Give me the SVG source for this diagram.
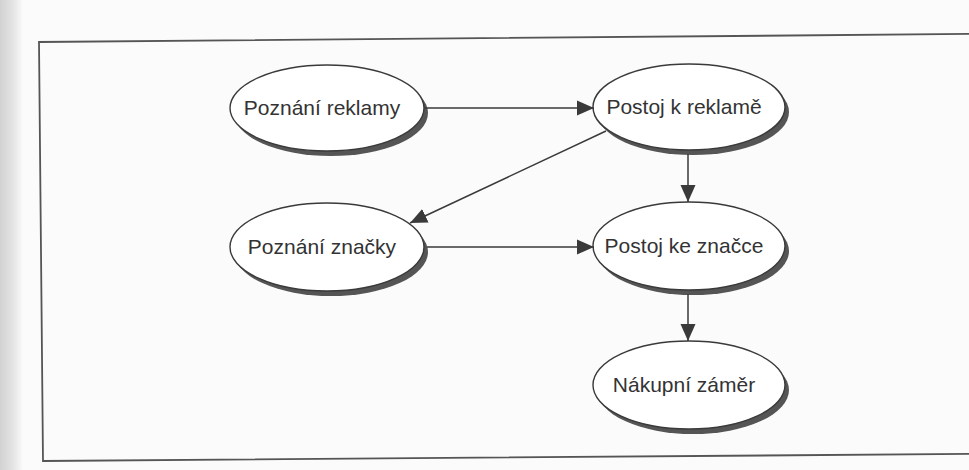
<svg xmlns="http://www.w3.org/2000/svg" width="969" height="470" viewBox="0 0 969 470">
<defs>
<linearGradient id="gutter" x1="0" y1="0" x2="1" y2="0">
<stop offset="0" stop-color="#d2d2d2"/>
<stop offset="0.6" stop-color="#e4e4e4"/>
<stop offset="1" stop-color="#f8f8f8"/>
</linearGradient>
<marker id="arr" markerUnits="userSpaceOnUse" markerWidth="18" markerHeight="16" refX="17" refY="8" orient="auto">
<path d="M0,0.5 L17,8 L0,15.5 Z" fill="#3a3a3a"/>
</marker>
<style>
.sh{fill:#555555;}
.el{fill:#ffffff;stroke:#3a3a3a;stroke-width:1.4;}
.lbl{font-family:"Liberation Sans",Arial,sans-serif;font-size:21px;fill:#333;text-anchor:middle;}
.con{stroke:#3a3a3a;stroke-width:1.5;fill:none;marker-end:url(#arr);}
.box{stroke:#555;stroke-width:1.8;fill:none;}
</style>
</defs>
<rect x="0" y="0" width="969" height="470" fill="#fbfbfb"/>
<rect x="0" y="0" width="22" height="470" fill="url(#gutter)"/>
<path class="box" d="M975,33.9 L39,42 L43,461 L975,453.9"/>
<g id="n1">
<ellipse class="sh" cx="331" cy="113" rx="97" ry="43"/>
<ellipse class="el" cx="327" cy="108" rx="97" ry="43"/>
<text class="lbl" x="322" y="115">Poznání reklamy</text>
</g>
<g id="n2">
<ellipse class="sh" cx="693" cy="112" rx="96" ry="43"/>
<ellipse class="el" cx="689" cy="107" rx="96" ry="43"/>
<text class="lbl" x="684" y="114">Postoj k reklamě</text>
</g>
<g id="n3">
<ellipse class="sh" cx="331" cy="252" rx="97" ry="44"/>
<ellipse class="el" cx="327" cy="247" rx="97" ry="44"/>
<text class="lbl" x="322" y="254">Poznání značky</text>
</g>
<g id="n4">
<ellipse class="sh" cx="693" cy="251" rx="96" ry="44"/>
<ellipse class="el" cx="689" cy="246" rx="96" ry="44"/>
<text class="lbl" x="684" y="253">Postoj ke značce</text>
</g>
<g id="n5">
<ellipse class="sh" cx="693" cy="390" rx="96" ry="44"/>
<ellipse class="el" cx="689" cy="385" rx="96" ry="44"/>
<text class="lbl" x="684" y="392">Nákupní záměr</text>
</g>
<g id="connectors">
<line class="con" x1="425" y1="108" x2="594" y2="108"/>
<line class="con" x1="688" y1="154" x2="688" y2="202"/>
<line class="con" x1="606" y1="131" x2="410" y2="223"/>
<line class="con" x1="427" y1="247" x2="594" y2="247"/>
<line class="con" x1="688" y1="294" x2="688" y2="341"/>
</g>
</svg>
